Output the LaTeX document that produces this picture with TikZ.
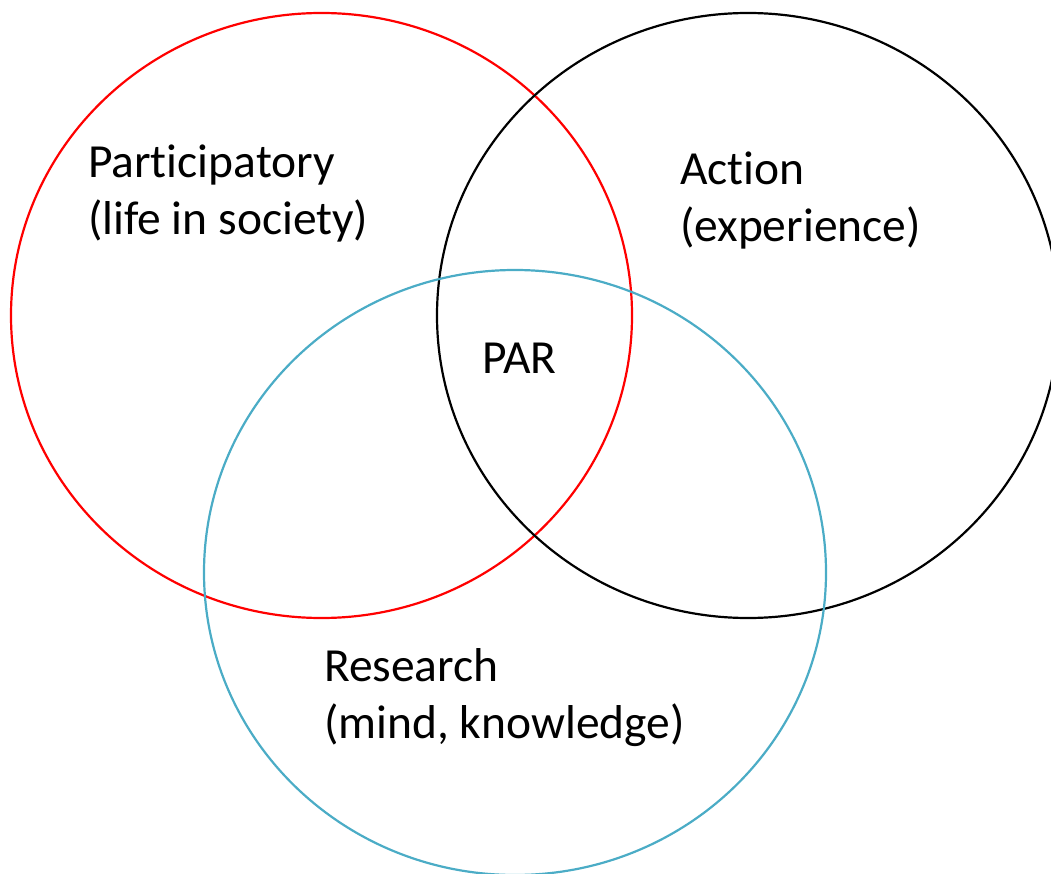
\documentclass[tikz,border=0pt]{standalone}
\usepackage{fontspec}
\setmainfont{Carlito}[RawFeature=-liga]
\definecolor{parblue}{RGB}{75,172,198}

\begin{document}
\begin{tikzpicture}[x=1pt,y=-1pt,line width=2.2pt,
  circle label/.style={anchor=base west,align=left,inner sep=0pt,
    font=\fontsize{47.5}{57}\selectfont}]

\useasboundingbox (0,0) rectangle (1051,874);

\begin{scope}
\coordinate (part) at (321.5,315.5);
\coordinate (act) at (748,315.5);
\coordinate (res) at (515,572.5);
\draw[red] (part) ellipse (310.5 and 302.5);
\draw[black] (act) ellipse (311 and 302.5);
\draw[parblue] (res) ellipse (311 and 302.5);
\end{scope}

% base of a two-line label sits on its second line
\node[circle label] (partlabel) at (87,235) {Participatory\\(life in society)};
\node[circle label] (actlabel) at (679,242) {Action\\(experience)};
\node[circle label] (parlabel) at (481,373) {PAR};
\node[circle label] (reslabel) at (323,738) {Research\\(mind, knowledge)};

\end{tikzpicture}
\end{document}
